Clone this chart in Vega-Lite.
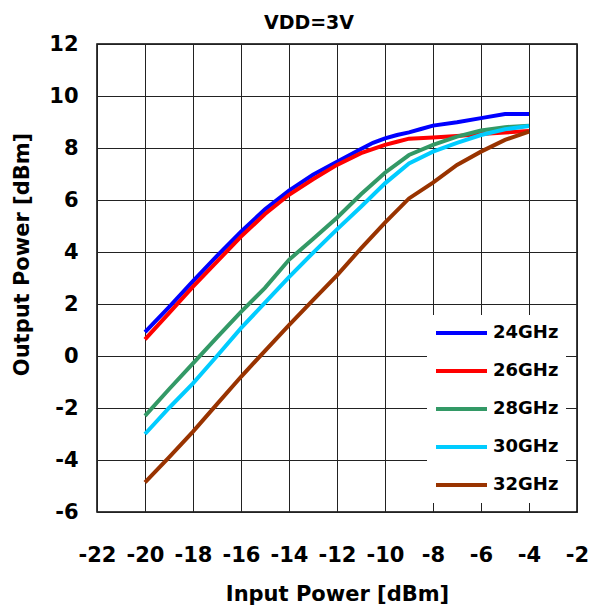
{
  "$schema": "https://vega.github.io/schema/vega-lite/v6.json",
  "width": 480,
  "height": 468,
  "autosize": "none",
  "padding": {"left": 97, "top": 44, "right": 14, "bottom": 100},
  "background": "white",
  "title": {
    "text": "VDD=3V",
    "font": "DejaVu Sans",
    "fontSize": 19,
    "fontWeight": "bold",
    "color": "#000",
    "anchor": "middle",
    "baseline": "alphabetic",
    "offset": 0,
    "dy": 15,
    "dx": -28
  },
  "config": {
    "view": {"stroke": "#000", "strokeWidth": 1.5},
    "axis": {
      "labelFont": "DejaVu Sans",
      "labelFontSize": 21,
      "labelFontWeight": "bold",
      "labelColor": "#000",
      "titleFont": "DejaVu Sans",
      "titleFontSize": 21,
      "titleFontWeight": "bold",
      "titleColor": "#000",
      "gridColor": "#222",
      "gridWidth": 1,
      "gridOpacity": 1,
      "domain": false,
      "ticks": false,
      "tickSize": 0,
      "labelOverlap": false,
      "labelFlush": false,
      "labelExpr": "datum.value < 0 ? '-' + abs(datum.value) : '' + datum.value"
    }
  },
  "data": {
    "values": [
      {"f": "24GHz", "x": -20, "y": 0.92}, {"f": "24GHz", "x": -19, "y": 1.88}, {"f": "24GHz", "x": -18, "y": 2.88}, {"f": "24GHz", "x": -17, "y": 3.85}, {"f": "24GHz", "x": -16, "y": 4.78}, {"f": "24GHz", "x": -15, "y": 5.64}, {"f": "24GHz", "x": -14, "y": 6.36}, {"f": "24GHz", "x": -13, "y": 6.97}, {"f": "24GHz", "x": -12, "y": 7.47}, {"f": "24GHz", "x": -11, "y": 7.96}, {"f": "24GHz", "x": -10.5, "y": 8.2}, {"f": "24GHz", "x": -10, "y": 8.37}, {"f": "24GHz", "x": -9.5, "y": 8.5}, {"f": "24GHz", "x": -9, "y": 8.6}, {"f": "24GHz", "x": -8.5, "y": 8.73}, {"f": "24GHz", "x": -8, "y": 8.86}, {"f": "24GHz", "x": -7, "y": 8.99}, {"f": "24GHz", "x": -6, "y": 9.15}, {"f": "24GHz", "x": -5, "y": 9.31}, {"f": "24GHz", "x": -4, "y": 9.31},
      {"f": "26GHz", "x": -20, "y": 0.64}, {"f": "26GHz", "x": -19, "y": 1.65}, {"f": "26GHz", "x": -18, "y": 2.67}, {"f": "26GHz", "x": -17, "y": 3.63}, {"f": "26GHz", "x": -16, "y": 4.59}, {"f": "26GHz", "x": -15, "y": 5.46}, {"f": "26GHz", "x": -14, "y": 6.2}, {"f": "26GHz", "x": -13, "y": 6.8}, {"f": "26GHz", "x": -12, "y": 7.35}, {"f": "26GHz", "x": -11, "y": 7.8}, {"f": "26GHz", "x": -10, "y": 8.12}, {"f": "26GHz", "x": -9.5, "y": 8.24}, {"f": "26GHz", "x": -9, "y": 8.36}, {"f": "26GHz", "x": -8, "y": 8.4}, {"f": "26GHz", "x": -7, "y": 8.46}, {"f": "26GHz", "x": -6, "y": 8.54}, {"f": "26GHz", "x": -5, "y": 8.6}, {"f": "26GHz", "x": -4, "y": 8.65},
      {"f": "28GHz", "x": -20, "y": -2.3}, {"f": "28GHz", "x": -19, "y": -1.28}, {"f": "28GHz", "x": -18, "y": -0.28}, {"f": "28GHz", "x": -17, "y": 0.72}, {"f": "28GHz", "x": -16, "y": 1.7}, {"f": "28GHz", "x": -15, "y": 2.62}, {"f": "28GHz", "x": -14, "y": 3.7}, {"f": "28GHz", "x": -13, "y": 4.5}, {"f": "28GHz", "x": -12, "y": 5.32}, {"f": "28GHz", "x": -11, "y": 6.22}, {"f": "28GHz", "x": -10, "y": 7.05}, {"f": "28GHz", "x": -9, "y": 7.73}, {"f": "28GHz", "x": -8, "y": 8.12}, {"f": "28GHz", "x": -7, "y": 8.44}, {"f": "28GHz", "x": -6, "y": 8.67}, {"f": "28GHz", "x": -5, "y": 8.8}, {"f": "28GHz", "x": -4, "y": 8.86},
      {"f": "30GHz", "x": -20, "y": -3.0}, {"f": "30GHz", "x": -19, "y": -2.0}, {"f": "30GHz", "x": -18, "y": -1.05}, {"f": "30GHz", "x": -17, "y": 0.0}, {"f": "30GHz", "x": -16, "y": 1.07}, {"f": "30GHz", "x": -15, "y": 2.05}, {"f": "30GHz", "x": -14, "y": 3.03}, {"f": "30GHz", "x": -13, "y": 3.97}, {"f": "30GHz", "x": -12, "y": 4.87}, {"f": "30GHz", "x": -11, "y": 5.74}, {"f": "30GHz", "x": -10, "y": 6.64}, {"f": "30GHz", "x": -9, "y": 7.41}, {"f": "30GHz", "x": -8, "y": 7.86}, {"f": "30GHz", "x": -7, "y": 8.2}, {"f": "30GHz", "x": -6, "y": 8.5}, {"f": "30GHz", "x": -5, "y": 8.72}, {"f": "30GHz", "x": -4, "y": 8.85},
      {"f": "32GHz", "x": -20, "y": -4.86}, {"f": "32GHz", "x": -19, "y": -3.9}, {"f": "32GHz", "x": -18, "y": -2.91}, {"f": "32GHz", "x": -17, "y": -1.85}, {"f": "32GHz", "x": -16, "y": -0.8}, {"f": "32GHz", "x": -15, "y": 0.2}, {"f": "32GHz", "x": -14, "y": 1.19}, {"f": "32GHz", "x": -13, "y": 2.15}, {"f": "32GHz", "x": -12, "y": 3.1}, {"f": "32GHz", "x": -11, "y": 4.14}, {"f": "32GHz", "x": -10, "y": 5.13}, {"f": "32GHz", "x": -9, "y": 6.06}, {"f": "32GHz", "x": -8, "y": 6.67}, {"f": "32GHz", "x": -7, "y": 7.35}, {"f": "32GHz", "x": -6, "y": 7.86}, {"f": "32GHz", "x": -5, "y": 8.31}, {"f": "32GHz", "x": -4, "y": 8.63}
    ]
  },
  "mark": {"type": "line", "strokeWidth": 4, "clip": true},
  "encoding": {
    "x": {
      "field": "x",
      "type": "quantitative",
      "scale": {"domain": [-22, -2], "nice": false, "zero": false},
      "axis": {
        "values": [-22, -20, -18, -16, -14, -12, -10, -8, -6, -4, -2],
        "title": "Input Power [dBm]",
        "labelPadding": 49,
        "labelBaseline": "alphabetic",
        "titleY": 88,
        "titleBaseline": "alphabetic"
      }
    },
    "y": {
      "field": "y",
      "type": "quantitative",
      "scale": {"domain": [-6, 12], "nice": false, "zero": false},
      "axis": {
        "values": [-6, -4, -2, 0, 2, 4, 6, 8, 10, 12],
        "title": "Output Power [dBm]",
        "labelPadding": 19,
        "titleX": -69,
        "titleY": 210,
        "titleAngle": -90,
        "titleAlign": "center",
        "titleBaseline": "alphabetic"
      }
    },
    "color": {
      "field": "f",
      "type": "nominal",
      "scale": {
        "domain": ["24GHz", "26GHz", "28GHz", "30GHz", "32GHz"],
        "range": ["#0000FF", "#FF0000", "#339966", "#00CCFF", "#993300"]
      },
      "legend": {
        "title": null,
        "orient": "none",
        "legendX": 330,
        "legendY": 271,
        "symbolType": "stroke",
        "symbolSize": 2601,
        "symbolStrokeWidth": 4,
        "labelFont": "DejaVu Sans",
        "labelFontSize": 18,
        "labelFontWeight": "bold",
        "labelColor": "#000",
        "labelOffset": 4,
        "fillColor": "white",
        "padding": 7,
        "clipHeight": 22,
        "rowPadding": 16
      }
    }
  }
}
